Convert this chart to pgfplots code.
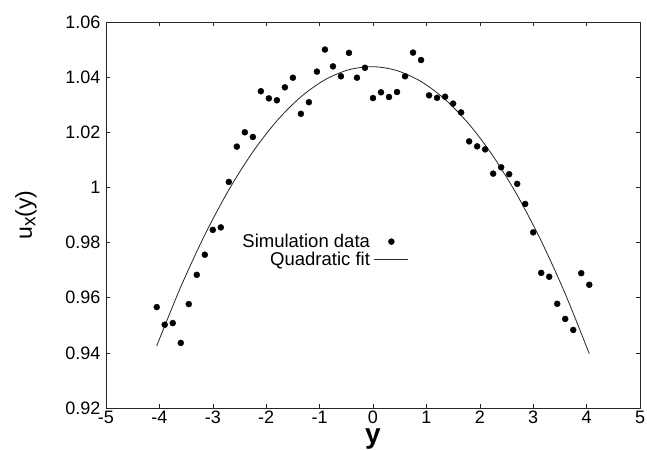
\documentclass[border=0pt]{standalone}
\usepackage{pgfplots}
\pgfplotsset{compat=1.18}
\usepackage{fontspec}
\setmainfont{Liberation Sans}
\pgfplotsset{
  mymarkleg/.style={legend image code/.code={\draw[mark repeat=2,mark phase=2,##1] plot coordinates {(0pt,0pt) (17pt,0pt) (34pt,0pt)};}},
  mylineleg/.style={legend image code/.code={\draw[##1] (0pt,0pt) -- (34pt,0pt);}},
}
\begin{document}
\begin{tikzpicture}
\begin{axis}[
  scale only axis, width=534pt, height=386pt,
  xmin=-5, xmax=5, ymin=0.92, ymax=1.06,
  xtick={-5,-4,-3,-2,-1,0,1,2,3,4,5},
  ytick={0.92,0.94,0.96,0.98,1,1.02,1.04,1.06},
  yticklabels={0.92,0.94,0.96,0.98,1,1.02,1.04,1.06},
  tick align=inside, major tick length=4pt,
  tick style={black!85, line width=0.6pt},
  axis line style={black!85, line width=0.8pt},
  ticklabel style={font=\fontsize{18}{18}\selectfont},
  yticklabel style={xshift=-2pt},
  xticklabel style={yshift=-1pt, inner sep=2pt},
  /pgf/number format/assume math mode=true,
  xlabel={\bfseries y},
  xlabel style={font=\fontsize{28}{28}\selectfont, inner sep=0pt, at={(axis description cs:0.5,-0.08)}, anchor=center},
  ylabel={u\raisebox{-0.15em}{\fontsize{19}{19}\selectfont x}(y)},
  ylabel style={font=\fontsize{23}{23}\selectfont, at={(axis description cs:-0.15,0.5)}, anchor=center},
  legend plot pos=right,
  legend cell align=right,
  legend style={draw=none, fill=none, at={(axis cs:0.73,0.9771)}, anchor=east,
    font=\fontsize{18.5}{18.5}\selectfont, row sep=-1pt, column sep=2pt},
]
\addplot[only marks, mark=*, mark size=3pt, black, mymarkleg]
coordinates {
(-4.05,0.9566) (-3.90,0.9502) (-3.75,0.9508) (-3.60,0.9436) (-3.45,0.9577)
(-3.30,0.9683) (-3.15,0.9756) (-3.00,0.9846) (-2.85,0.9855) (-2.70,1.0020)
(-2.55,1.0148) (-2.40,1.0200) (-2.25,1.0183) (-2.10,1.0349) (-1.95,1.0323)
(-1.80,1.0316) (-1.65,1.0363) (-1.50,1.0398) (-1.35,1.0267) (-1.20,1.0309)
(-1.05,1.0420) (-0.90,1.0500) (-0.75,1.0439) (-0.60,1.0403) (-0.45,1.0488)
(-0.30,1.0398) (-0.15,1.0434) (0.00,1.0324) (0.15,1.0345) (0.30,1.0328)
(0.45,1.0346) (0.60,1.0403) (0.75,1.0489) (0.90,1.0462) (1.05,1.0334)
(1.20,1.0325) (1.35,1.0329) (1.50,1.0304) (1.65,1.0272) (1.80,1.0167)
(1.95,1.0149) (2.10,1.0138) (2.25,1.0050) (2.40,1.0073) (2.55,1.0048)
(2.70,1.0013) (2.85,0.9940) (3.00,0.9837) (3.15,0.9690) (3.30,0.9676)
(3.45,0.9578) (3.60,0.9523) (3.75,0.9483) (3.90,0.9689) (4.05,0.9647)
};
\addlegendentry{Simulation data}
\addplot[black!85, line width=0.8pt, smooth, mark=none, mylineleg]
coordinates {
(-4.05,0.94254) (-3.60,0.96393) (-3.15,0.98278) (-2.70,0.99911) (-2.25,1.01290)
(-1.80,1.02415) (-1.35,1.03286) (-0.90,1.03905) (-0.45,1.04269) (0.00,1.04380)
(0.45,1.04237) (0.90,1.03841) (1.35,1.03192) (1.80,1.02289) (2.25,1.01132)
(2.70,0.99721) (3.15,0.98058) (3.60,0.96141) (4.05,0.93970)
};
\addlegendentry{Quadratic fit}
\end{axis}
\path[use as bounding box] ([xshift=-106pt,yshift=-40pt]current axis.south west) rectangle ([xshift=7pt,yshift=22pt]current axis.north east);
\end{tikzpicture}
\end{document}
